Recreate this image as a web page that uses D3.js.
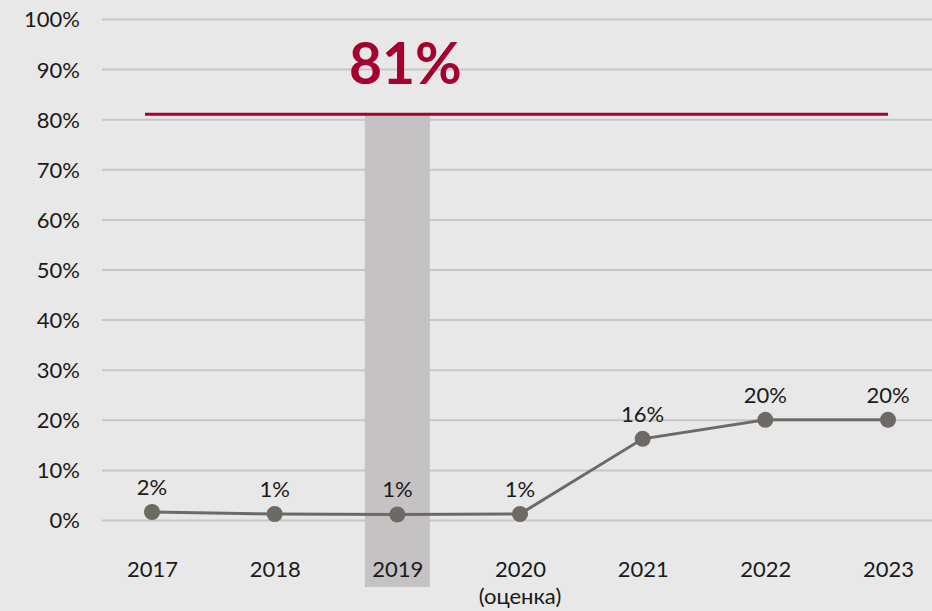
<!DOCTYPE html>
<html>
<head>
<meta charset="utf-8">
<script src="https://cdn.jsdelivr.net/npm/d3@7"></script>
<style>
  body { margin: 0; background: #e8e8e8; }
  svg text { font-family: Lato, "Open Sans", sans-serif; fill: #1a1a1a; }
</style>
</head>
<body>
<div id="picture"></div>
<script>
var years = ["2017", "2018", "2019", "2020", "2021", "2022", "2023"];
var subLabels = ["", "", "", "(оценка)", "", "", ""];
var values = [1.6, 1.2, 1.1, 1.2, 16.2, 20, 20];
var valueLabels = ["2%", "1%", "1%", "1%", "16%", "20%", "20%"];
var yTicks = [0, 10, 20, 30, 40, 50, 60, 70, 80, 90, 100];
var targetValue = 81;
var targetLabel = "81%";
var highlightYear = "2019";

function draw() {
    "use strict";

    var width = 932, height = 611;

    var svg = d3.select("#picture")
        .append("svg")
        .attr("width", width)
        .attr("height", height);

    var x_scale = d3.scalePoint().domain(years).range([152, 888]);
    var y_scale = d3.scaleLinear().domain([0, 100]).range([520, 19]);

    // grid lines
    var y_axis = d3.axisLeft(y_scale)
        .tickValues(yTicks)
        .tickSize(-(width - 102))
        .tickPadding(22)
        .tickFormat(function (d) { return d + "%"; });

    var gy = svg.append("g")
        .attr("class", "y_axis")
        .attr("transform", "translate(102, 0)")
        .call(y_axis);
    gy.select(".domain").remove();
    gy.selectAll("line").attr("stroke", "#c6c6c6").attr("stroke-width", 2);
    gy.selectAll("text").style("font-size", "22px").attr("dy", "0.36em");

    // highlighted year band
    svg.append("rect")
        .attr("x", x_scale(highlightYear) - 32.5)
        .attr("width", 65)
        .attr("y", y_scale(targetValue))
        .attr("height", 587 - y_scale(targetValue))
        .attr("fill", "#c4c2c3");

    // target line
    svg.append("line")
        .attr("x1", x_scale(years[0]) - 7)
        .attr("x2", x_scale(years[years.length - 1]))
        .attr("y1", y_scale(targetValue))
        .attr("y2", y_scale(targetValue))
        .attr("stroke", "#a6002e")
        .attr("stroke-width", 3);

    svg.append("text")
        .text(targetLabel)
        .attr("x", x_scale(highlightYear) + 8)
        .attr("y", 84)
        .attr("text-anchor", "middle")
        .style("font-size", "57px")
        .style("font-weight", "bold")
        .style("fill", "#a6002e");

    // x labels
    var x_axis = d3.axisBottom(x_scale).tickSize(0).tickPadding(0);
    var gx = svg.append("g")
        .attr("class", "x_axis")
        .attr("transform", "translate(0, 577)")
        .call(x_axis);
    gx.select(".domain").remove();
    gx.selectAll("text").attr("dy", 0).style("font-size", "22px");

    svg.selectAll(".sub")
        .data(years)
        .enter()
        .append("text")
        .attr("class", "sub")
        .attr("x", function (d) { return x_scale(d); })
        .attr("y", 604)
        .attr("text-anchor", "middle")
        .style("font-size", "22px")
        .text(function (d, i) { return subLabels[i]; });

    // line + points
    var line = d3.line()
        .x(function (d, i) { return x_scale(years[i]); })
        .y(function (d) { return y_scale(d); });

    svg.append("path")
        .attr("d", line(values))
        .attr("fill", "none")
        .attr("stroke", "#6d6a66")
        .attr("stroke-width", 3);

    svg.selectAll(".dot")
        .data(values)
        .enter()
        .append("circle")
        .attr("class", "dot")
        .attr("cx", function (d, i) { return x_scale(years[i]); })
        .attr("cy", function (d) { return y_scale(d); })
        .attr("r", 8)
        .attr("fill", "#6d6a66");

    svg.selectAll(".val")
        .data(values)
        .enter()
        .append("text")
        .attr("class", "val")
        .attr("x", function (d, i) { return x_scale(years[i]); })
        .attr("y", function (d) { return y_scale(d) - 17; })
        .attr("text-anchor", "middle")
        .style("font-size", "22px")
        .text(function (d, i) { return valueLabels[i]; });
}

draw();
</script>
</body>
</html>
